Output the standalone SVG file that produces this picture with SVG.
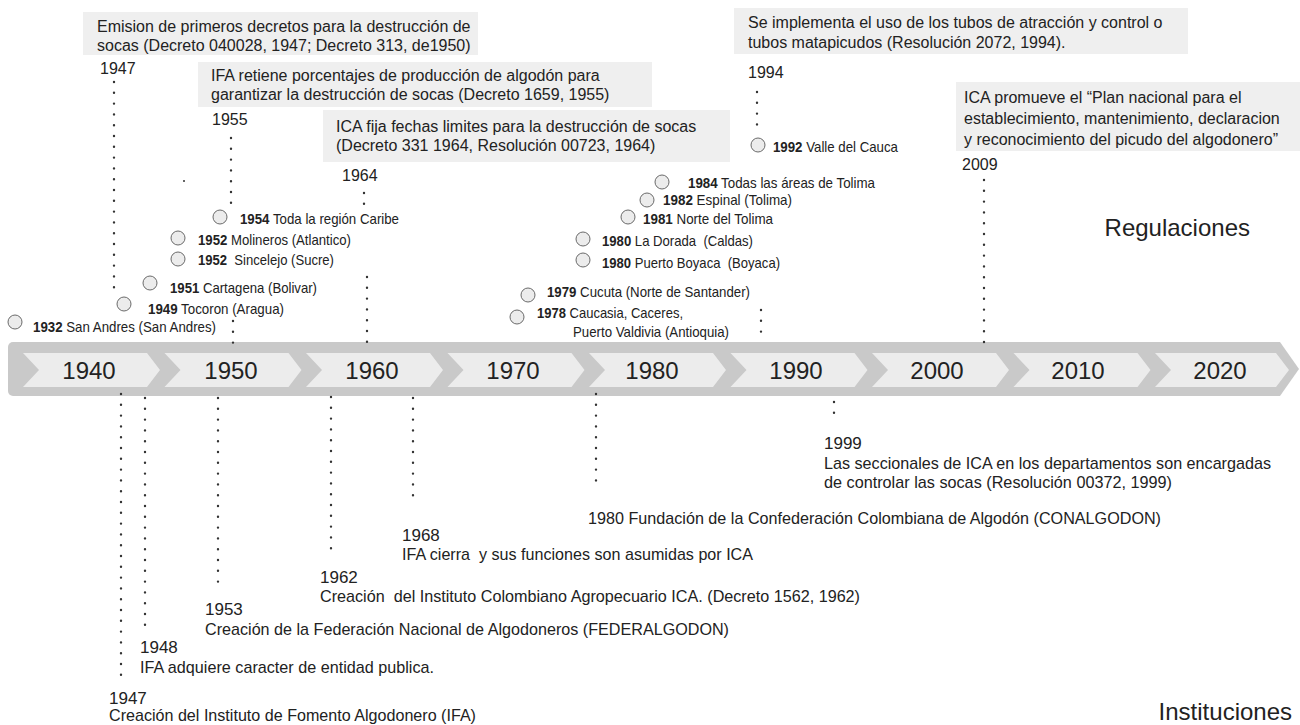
<svg xmlns="http://www.w3.org/2000/svg" width="1300" height="725" viewBox="0 0 1300 725">
<style>
.bg{fill:#ffffff}
.box{fill:#efefef}
.bt{font-family:"Liberation Sans",Arial,sans-serif;font-size:16px;fill:#222}
.yr{font-family:"Liberation Sans",Arial,sans-serif;font-size:16px;fill:#222}
.lb{font-family:"Liberation Sans",Arial,sans-serif;font-size:15px;fill:#222}
.lb tspan.b{font-weight:bold}
.bot{font-family:"Liberation Sans",Arial,sans-serif;font-size:17px;fill:#222}
.big{font-family:"Liberation Sans",Arial,sans-serif;font-size:24px;fill:#222}
.dot{stroke:#333;stroke-width:2.4;stroke-dasharray:0 10.8;stroke-linecap:round;fill:none}
.cir{fill:#ececec;stroke:#6a6a6a;stroke-width:1}
.outer{fill:#c9c9c9}
.inner{fill:#ececec}
.dec{font-family:"Liberation Sans",Arial,sans-serif;font-size:24px;fill:#222;text-anchor:middle}
</style>
<rect class="bg" x="0" y="0" width="1300" height="725"/>

<g id="timeline">
  <rect class="outer" x="8" y="342" width="1270" height="54" rx="5"/>
  <polygon class="outer" points="1270,342 1280,342 1299,369 1280,396 1270,396"/>
  <g id="seg1940"><polygon class="inner" points="23,353 147,353 160,370 147,387 23,387 39,370"/><text class="dec" x="89" y="379">1940</text></g>
  <g id="seg1950"><polygon class="inner" points="164.5,353 288.5,353 301.5,370 288.5,387 164.5,387 180.5,370"/><text class="dec" x="231" y="379">1950</text></g>
  <g id="seg1960"><polygon class="inner" points="306,353 430,353 443,370 430,387 306,387 322,370"/><text class="dec" x="372" y="379">1960</text></g>
  <g id="seg1970"><polygon class="inner" points="447.5,353 571.5,353 584.5,370 571.5,387 447.5,387 463.5,370"/><text class="dec" x="513" y="379">1970</text></g>
  <g id="seg1980"><polygon class="inner" points="589,353 713,353 726,370 713,387 589,387 605,370"/><text class="dec" x="652" y="379">1980</text></g>
  <g id="seg1990"><polygon class="inner" points="730.5,353 854.5,353 867.5,370 854.5,387 730.5,387 746.5,370"/><text class="dec" x="796" y="379">1990</text></g>
  <g id="seg2000"><polygon class="inner" points="872,353 996,353 1009,370 996,387 872,387 888,370"/><text class="dec" x="937" y="379">2000</text></g>
  <g id="seg2010"><polygon class="inner" points="1013.5,353 1137.5,353 1150.5,370 1137.5,387 1013.5,387 1029.5,370"/><text class="dec" x="1078" y="379">2010</text></g>
  <g id="seg2020"><polygon class="inner" points="1155,353 1276,353 1289,370 1276,387 1155,387 1171,370"/><text class="dec" x="1220" y="379">2020</text></g>
</g>

<g id="connectors">
  <line class="dot" x1="114" y1="82" x2="114" y2="298"/>
  <line class="dot" x1="231" y1="138" x2="231" y2="205"/>
  <line class="dot" x1="233" y1="321" x2="233" y2="343"/>
  <line class="dot" x1="364" y1="193" x2="364" y2="205"/>
  <line class="dot" x1="367" y1="277" x2="367" y2="343"/>
  <line class="dot" x1="757" y1="92" x2="757" y2="135"/>
  <line class="dot" x1="761" y1="310" x2="761" y2="342"/>
  <line class="dot" x1="984" y1="180" x2="984" y2="343"/>
  <circle cx="184" cy="181" r="1" fill="#333"/>
  <line class="dot" x1="121" y1="394" x2="121" y2="685"/>
  <line class="dot" x1="145" y1="398" x2="145" y2="632"/>
  <line class="dot" x1="218" y1="398" x2="218" y2="592"/>
  <line class="dot" x1="331" y1="397" x2="331" y2="558"/>
  <line class="dot" x1="413" y1="398" x2="413" y2="506"/>
  <line class="dot" x1="596" y1="394" x2="596" y2="490"/>
  <line class="dot" x1="834" y1="402" x2="834" y2="413"/>
</g>

<g id="reg1947">
  <rect class="box" x="83" y="12" width="395" height="43"/>
  <text class="bt" x="97" y="32">Emision de primeros decretos para la destrucción de</text>
  <text class="bt" x="97" y="51">socas (Decreto 040028, 1947; Decreto 313, de1950)</text>
  <text class="yr" x="100" y="74">1947</text>
</g>
<g id="reg1955">
  <rect class="box" x="198" y="62" width="454" height="45"/>
  <text class="bt" x="211" y="81">IFA retiene porcentajes de producción de algodón para</text>
  <text class="bt" x="211" y="100">garantizar la destrucción de socas (Decreto 1659, 1955)</text>
  <text class="yr" x="212" y="125">1955</text>
</g>
<g id="reg1964">
  <rect class="box" x="323" y="110" width="407" height="52"/>
  <text class="bt" x="336" y="132">ICA fija fechas limites para la destrucción de socas</text>
  <text class="bt" x="336" y="151">(Decreto 331 1964, Resolución 00723, 1964)</text>
  <text class="yr" x="342" y="181">1964</text>
</g>
<g id="reg1994">
  <rect class="box" x="734" y="8" width="454" height="46"/>
  <text class="bt" x="748" y="28">Se implementa el uso de los tubos de atracción y control o</text>
  <text class="bt" x="748" y="48">tubos matapicudos (Resolución 2072, 1994).</text>
  <text class="yr" x="748" y="78">1994</text>
</g>
<g id="reg2009">
  <rect class="box" x="956" y="82" width="344" height="69"/>
  <text class="bt" x="964" y="103">ICA promueve el “Plan nacional para el</text>
  <text class="bt" x="964" y="124">establecimiento, mantenimiento, declaracion</text>
  <text class="bt" x="964" y="145">y reconocimiento del picudo del algodonero”</text>
  <text class="yr" x="962" y="170">2009</text>
</g>

<g id="p1932"><circle class="cir" cx="15" cy="322" r="7"/><text class="lb" x="33" y="332" textLength="183" lengthAdjust="spacingAndGlyphs"><tspan class="b">1932</tspan> San Andres (San Andres)</text></g>
<g id="p1949"><circle class="cir" cx="124" cy="304" r="7"/><text class="lb" x="148" y="314" textLength="136" lengthAdjust="spacingAndGlyphs"><tspan class="b">1949</tspan> Tocoron (Aragua)</text></g>
<g id="p1951"><circle class="cir" cx="150" cy="283" r="7"/><text class="lb" x="170" y="293" textLength="147" lengthAdjust="spacingAndGlyphs"><tspan class="b">1951</tspan> Cartagena (Bolivar)</text></g>
<g id="p1952s"><circle class="cir" cx="178" cy="259" r="7"/><text class="lb" x="198" y="265" textLength="136" lengthAdjust="spacingAndGlyphs" xml:space="preserve"><tspan class="b">1952</tspan>  Sincelejo (Sucre)</text></g>
<g id="p1952m"><circle class="cir" cx="178" cy="238" r="7"/><text class="lb" x="198" y="245" textLength="153" lengthAdjust="spacingAndGlyphs"><tspan class="b">1952</tspan> Molineros (Atlantico)</text></g>
<g id="p1954"><circle class="cir" cx="220" cy="217" r="7"/><text class="lb" x="240" y="224" textLength="159" lengthAdjust="spacingAndGlyphs"><tspan class="b">1954</tspan> Toda la región Caribe</text></g>
<g id="p1978"><circle class="cir" cx="517" cy="317" r="7"/><text class="lb" x="537" y="318" textLength="146" lengthAdjust="spacingAndGlyphs"><tspan class="b">1978</tspan> Caucasia, Caceres,</text><text class="lb" x="573" y="337" textLength="156" lengthAdjust="spacingAndGlyphs">Puerto Valdivia (Antioquia)</text></g>
<g id="p1979"><circle class="cir" cx="528" cy="295" r="7"/><text class="lb" x="547" y="297" textLength="203" lengthAdjust="spacingAndGlyphs"><tspan class="b">1979</tspan> Cucuta (Norte de Santander)</text></g>
<g id="p1980p"><circle class="cir" cx="583" cy="260" r="7"/><text class="lb" x="602" y="268" textLength="178" lengthAdjust="spacingAndGlyphs" xml:space="preserve"><tspan class="b">1980</tspan> Puerto Boyaca  (Boyaca)</text></g>
<g id="p1980l"><circle class="cir" cx="583" cy="239" r="7"/><text class="lb" x="602" y="246" textLength="151" lengthAdjust="spacingAndGlyphs" xml:space="preserve"><tspan class="b">1980</tspan> La Dorada  (Caldas)</text></g>
<g id="p1981"><circle class="cir" cx="628" cy="217" r="7"/><text class="lb" x="643" y="224" textLength="130" lengthAdjust="spacingAndGlyphs"><tspan class="b">1981</tspan> Norte del Tolima</text></g>
<g id="p1982"><circle class="cir" cx="647" cy="200" r="7"/><text class="lb" x="663" y="205" textLength="129" lengthAdjust="spacingAndGlyphs"><tspan class="b">1982</tspan> Espinal (Tolima)</text></g>
<g id="p1984"><circle class="cir" cx="662" cy="182" r="7"/><text class="lb" x="688" y="188" textLength="187" lengthAdjust="spacingAndGlyphs"><tspan class="b">1984</tspan> Todas las áreas de Tolima</text></g>
<g id="p1992"><circle class="cir" cx="758" cy="145" r="7"/><text class="lb" x="773" y="152" textLength="125" lengthAdjust="spacingAndGlyphs"><tspan class="b">1992</tspan> Valle del Cauca</text></g>

<g id="inst1947"><text class="bot" x="109" y="704">1947</text><text class="bot" x="109" y="721" textLength="367" lengthAdjust="spacingAndGlyphs">Creación del Instituto de Fomento Algodonero (IFA)</text></g>
<g id="inst1948"><text class="bot" x="140" y="653">1948</text><text class="bot" x="140" y="673" textLength="294" lengthAdjust="spacingAndGlyphs">IFA adquiere caracter de entidad publica.</text></g>
<g id="inst1953"><text class="bot" x="205" y="615">1953</text><text class="bot" x="205" y="635" textLength="524" lengthAdjust="spacingAndGlyphs">Creación de la Federación Nacional de Algodoneros (FEDERALGODON)</text></g>
<g id="inst1962"><text class="bot" x="320" y="583">1962</text><text class="bot" x="320" y="602" textLength="540" lengthAdjust="spacingAndGlyphs" xml:space="preserve">Creación  del Instituto Colombiano Agropecuario ICA. (Decreto 1562, 1962)</text></g>
<g id="inst1968"><text class="bot" x="402" y="541">1968</text><text class="bot" x="402" y="560" textLength="351" lengthAdjust="spacingAndGlyphs" xml:space="preserve">IFA cierra  y sus funciones son asumidas por ICA</text></g>
<g id="inst1980"><text class="bot" x="588" y="524" textLength="573" lengthAdjust="spacingAndGlyphs">1980 Fundación de la Confederación Colombiana de Algodón (CONALGODON)</text></g>
<g id="inst1999"><text class="bot" x="824" y="449">1999</text><text class="bot" x="824" y="469" textLength="447" lengthAdjust="spacingAndGlyphs">Las seccionales de ICA en los departamentos son encargadas</text><text class="bot" x="824" y="488" textLength="348" lengthAdjust="spacingAndGlyphs">de controlar las socas (Resolución 00372, 1999)</text></g>

<text class="big" x="1250" y="236" text-anchor="end">Regulaciones</text>
<text class="big" x="1292" y="720" text-anchor="end">Instituciones</text>
</svg>
